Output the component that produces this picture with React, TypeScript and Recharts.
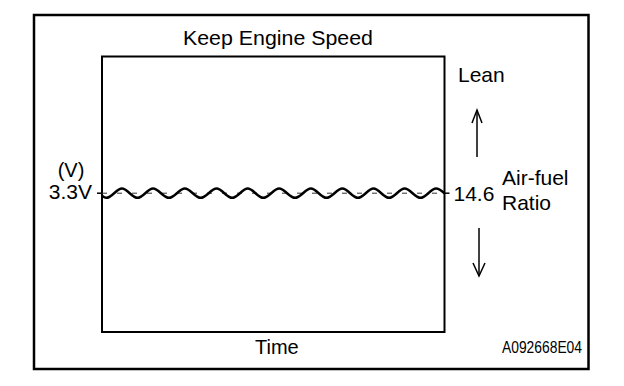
import React from "react";
import { LineChart, Line, XAxis, YAxis, ReferenceArea, ReferenceLine } from "recharts";

// time (arbitrary units) and O2 sensor voltage (V)
const times = [0, 0.14, 0.64, 1.14, 1.64, 2.15, 2.66, 3.17, 3.68, 4.18, 4.68, 5.18, 5.69, 6.2, 6.71, 7.21, 7.72, 8.22, 8.72, 9.22, 9.72, 10.23, 10.73, 11];
const volts = [3.24, 3.19, 3.41, 3.19, 3.41, 3.19, 3.41, 3.19, 3.41, 3.19, 3.41, 3.19, 3.41, 3.19, 3.41, 3.19, 3.41, 3.19, 3.41, 3.19, 3.41, 3.19, 3.41, 3.3];
const leftTicks = [3.3];
const leftTickLabels = ["3.3V"];
const rightTickLabels = ["14.6"];
const title = "Keep Engine Speed";
const xLabel = "Time";
const code = "A092668E04";

const data = times.map((t, i) => ({ t, v: volts[i] }));

const FONT = "'Liberation Sans', Arial, Helvetica, sans-serif";

const LeftTick = (props: any) => {
  const { x, y, index } = props;
  return (
    <text x={x} y={y} dy={6} textAnchor="end" fontFamily={FONT} fontSize={21} fill="#000">
      {leftTickLabels[index]}
    </text>
  );
};
const RightTick = (props: any) => {
  const { x, y, index } = props;
  return (
    <text x={x} y={y} dy={8} textAnchor="start" fontFamily={FONT} fontSize={21} fill="#000">
      {rightTickLabels[index]}
    </text>
  );
};

export default function App() {
  return (
    <div style={{ position: "absolute", left: 0, top: 0, width: 624, height: 386, background: "#fff" }}>
      <LineChart
        width={624}
        height={386}
        data={data}
        margin={{ top: 56.5, left: 42, right: 119.5, bottom: 54 }}
      >
        <XAxis dataKey="t" type="number" domain={[0, 11]} hide />
        <YAxis
          yAxisId="l"
          type="number"
          domain={[0, 6.55]}
          ticks={leftTicks}
          width={60}
          axisLine={false}
          tickLine={{ stroke: "#000", strokeWidth: 1.5 }}
          tickSize={5}
          tickMargin={5}
          tick={<LeftTick />}
        />
        <YAxis
          yAxisId="r"
          orientation="right"
          type="number"
          domain={[0, 6.55]}
          ticks={leftTicks}
          width={60}
          axisLine={false}
          tickLine={{ stroke: "#000", strokeWidth: 1.5 }}
          tickSize={5}
          tickMargin={4}
          tick={<RightTick />}
        />
        <ReferenceLine yAxisId="l" y={3.3} stroke="#333" strokeWidth={1} strokeDasharray="5 10" />
        <ReferenceArea
          yAxisId="l"
          x1={0}
          x2={11}
          y1={0}
          y2={6.55}
          fill="none"
          fillOpacity={0}
          stroke="#000"
          strokeWidth={2}
        />
        <Line
          yAxisId="r"
          dataKey="v"
          type="monotone"
          stroke="none"
          strokeWidth={0}
          dot={false}
          activeDot={false}
          isAnimationActive={false}
        />
        <Line
          yAxisId="l"
          dataKey="v"
          type="monotone"
          stroke="#000"
          strokeWidth={2.5}
          dot={false}
          isAnimationActive={false}
        />
      </LineChart>
      <svg
        width={624}
        height={386}
        style={{ position: "absolute", left: 0, top: 0, pointerEvents: "none" }}
      >
        <rect x={34} y={15} width={554.5} height={354} fill="none" stroke="#000" strokeWidth={2.5} />
        <text x={183} y={45} fontFamily={FONT} fontSize={20} textLength={190} lengthAdjust="spacingAndGlyphs">
          {title}
        </text>
        <text x={255} y={354} fontFamily={FONT} fontSize={20}>
          {xLabel}
        </text>
        <text x={71} y={177} textAnchor="middle" fontFamily={FONT} fontSize={20}>
          (V)
        </text>
        <text x={458} y={82} fontFamily={FONT} fontSize={21}>
          Lean
        </text>
        <text x={502} y={185} fontFamily={FONT} fontSize={21}>
          Air-fuel
        </text>
        <text x={502} y={210} fontFamily={FONT} fontSize={21}>
          Ratio
        </text>
        <text x={502} y={353} fontFamily={FONT} fontSize={16} textLength={80} lengthAdjust="spacingAndGlyphs">
          {code}
        </text>
        <g stroke="#000" strokeWidth={1.5} fill="none">
          <line x1={477} y1={110} x2={477} y2={157} />
          <polyline points="472,123 477,110 482,123" />
          <line x1={479} y1={228} x2={479} y2={276} />
          <polyline points="473,263 479,276 485,263" />
        </g>
      </svg>
    </div>
  );
}
